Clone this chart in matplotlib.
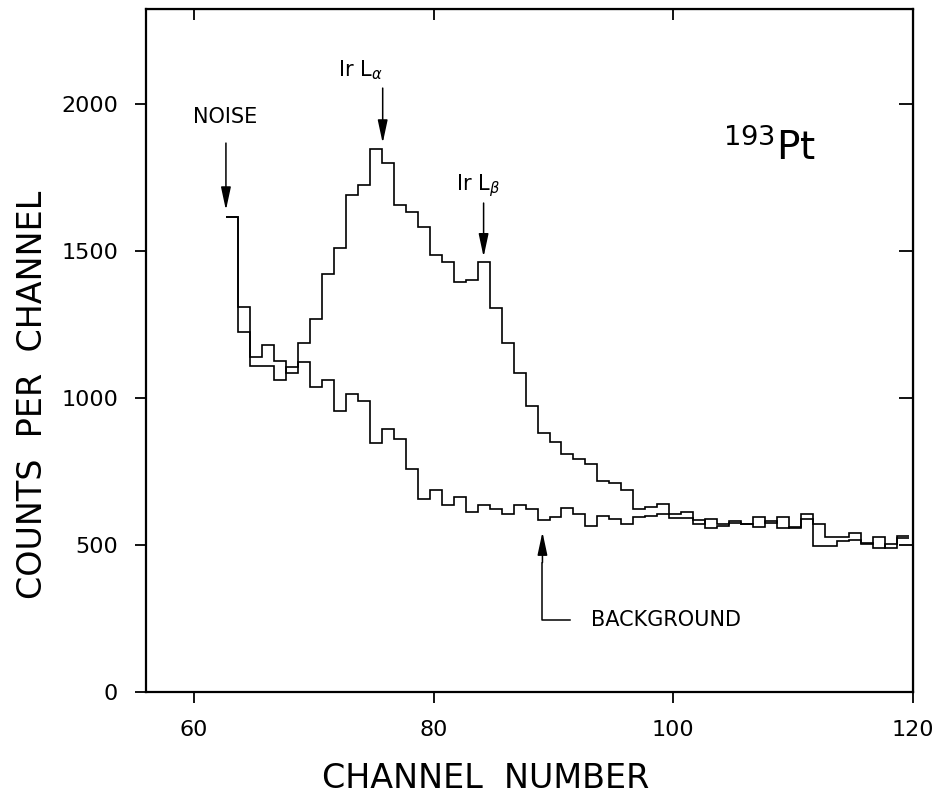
import numpy as np
import matplotlib
matplotlib.use("Agg")
import matplotlib.pyplot as plt

# counts per channel
sig_channels = np.arange(63, 120)
sig_counts = [1617, 1309, 1108, 1110, 1060, 1105, 1187, 1268, 1422, 1511,
              1692, 1723, 1846, 1798, 1658, 1634, 1580, 1487, 1464, 1396,
              1402, 1461, 1306, 1186, 1084, 972, 880, 851, 810, 793,
              776, 716, 712, 687, 623, 629, 640, 604, 611, 573,
              587, 570, 580, 570, 594, 575, 594, 558, 604, 572,
              528, 528, 541, 508, 491, 502, 530]

# background run shares the noise channel
bkg_channels = np.arange(63, 120)
bkg_counts = [1617, 1224, 1138, 1179, 1125, 1084, 1121, 1036, 1060, 957, 1015,
              991, 848, 896, 860, 758, 655, 686, 635, 663, 612,
              636, 621, 607, 636, 621, 584, 596, 625, 606, 566,
              598, 589, 573, 596, 598, 605, 592, 592, 585, 558,
              565, 575, 572, 560, 580, 558, 562, 587, 496, 496,
              514, 516, 502, 528, 491, 524]

x_ticks = [60, 80, 100, 120]
y_ticks = [0, 500, 1000, 1500, 2000]

plt.rcParams['font.family'] = ['DejaVu Sans']

fig = plt.figure(figsize=(9.38, 7.93), dpi=100)
ax = fig.add_axes([146 / 938, 1 - 692 / 793, (913 - 146) / 938, (692 - 9) / 793])

# bins sit a third of a channel left of the integer
def edges(ch):
    ch = np.asarray(ch, dtype=float)
    return np.append(ch - 0.33, ch[-1] + 0.67)

ax.stairs(sig_counts, edges(sig_channels), color='black', lw=1.2, baseline=None)
ax.stairs(bkg_counts, edges(bkg_channels), color='black', lw=1.2, baseline=None)

ax.set_xlim(56, 120)
ax.set_ylim(0, 2323)
ax.set_xticks(x_ticks)
ax.set_yticks(y_ticks)
ax.tick_params(axis='both', direction='out', length=8, width=1.3, labelsize=16)
ax.tick_params(axis='x', pad=12)
ax.tick_params(axis='y', pad=12)
for s in ax.spines.values():
    s.set_linewidth(1.6)

top = ax.secondary_xaxis('top')
top.set_xticks(x_ticks)
top.tick_params(direction='in', length=8, width=1.3, labeltop=False)
right = ax.secondary_yaxis('right')
right.set_yticks(y_ticks)
right.tick_params(direction='in', length=10, width=1.3, labelright=False)

fig.text(486 / 938, 1 - 778 / 793, 'CHANNEL  NUMBER', fontsize=24,
         ha='center', va='center')
fig.text(33 / 938, 1 - 395 / 793, 'COUNTS  PER  CHANNEL', fontsize=24,
         ha='center', va='center', rotation=90)

arrow = dict(arrowstyle='-|>,head_length=0.7,head_width=0.15', color='black',
             lw=1.1, mutation_scale=20, shrinkA=0, shrinkB=0)

ax.annotate('', xy=(62.67, 1639), xytext=(62.67, 1867), arrowprops=arrow)
ax.text(62.6, 1956, 'NOISE', fontsize=15, ha='center', va='center')

ax.annotate('', xy=(75.75, 1867), xytext=(75.75, 2054), arrowprops=arrow)
ax.text(73.9, 2116, r'Ir L$_{\alpha}$', fontsize=15, ha='center', va='center')

ax.annotate('', xy=(84.17, 1480), xytext=(84.17, 1663), arrowprops=arrow)
ax.text(83.7, 1721, r'Ir L$_{\beta}$', fontsize=15, ha='center', va='center')

ax.text(108, 1850, r'$^{193}$Pt', fontsize=28, ha='center', va='center')

ax.plot([89.08, 89.08, 91.4], [440, 245, 245], color='black', lw=1.1)
ax.annotate('', xy=(89.08, 544), xytext=(89.08, 440), arrowprops=arrow)
ax.text(93.1, 245, 'BACKGROUND', fontsize=15, ha='left', va='center')

fig.savefig('out.png', dpi=100)
